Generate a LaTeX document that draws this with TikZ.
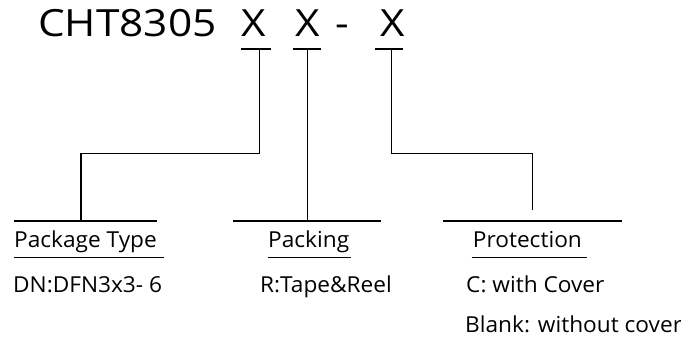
\documentclass[tikz,border=0pt]{standalone}
\usepackage{fontspec}
\setmainfont{Open Sans}
\newfontfamily\titlefont[FakeStretch=1.13]{Open Sans}
\newfontfamily\lblfont[FakeStretch=1.03]{Open Sans}
\begin{document}
\begin{tikzpicture}[x=1pt,y=-1pt,
  ln/.style={line width=1.3pt,line cap=butt},
  title/.style={anchor=base,inner sep=0pt,font=\titlefont\fontsize{37.5}{40}\selectfont},
  lbl/.style={anchor=base west,inner sep=0pt,font=\lblfont\fontsize{22}{26}\selectfont}]
\useasboundingbox (0,0) rectangle (681,337);
% title
\node[title,anchor=base west] (code) at (38,37) {CHT8305};
\node[title] (x1) at (254,37) {X};
\node[title] (x2) at (307.5,37) {X};
\node[title] (dash) at (342,37) {-};
\node[title] (x3) at (393,37) {X};
% bars under X
\coordinate (b1l) at (240.7,49); \coordinate (b1r) at (270.7,49);
\coordinate (b2l) at (292.7,49); \coordinate (b2r) at (320.7,49);
\coordinate (b3l) at (375,49);   \coordinate (b3r) at (402.7,49);
\draw[ln] (b1l) -- (b1r);
\draw[ln] (b2l) -- (b2r);
\draw[ln] (b3l) -- (b3r);
% top bars of groups
\coordinate (g1l) at (14,221);  \coordinate (g1r) at (156.7,221);
\coordinate (g2l) at (233,221); \coordinate (g2r) at (380.7,221);
\coordinate (g3l) at (443.3,221); \coordinate (g3r) at (621.7,221);
\draw[ln] (g1l) -- (g1r);
\draw[ln] (g2l) -- (g2r);
\draw[ln] (g3l) -- (g3r);
% connectors
\coordinate (t1) at (259.3,49); \coordinate (e1) at (81,221);
\coordinate (t2) at (307.7,49); \coordinate (e2) at (307.7,221);
\coordinate (t3) at (391.7,49); \coordinate (e3) at (532.7,210);
\draw[ln] (t1) |- (81,153.3) -- (e1);
\draw[ln] (t2) -- (e2);
\draw[ln] (t3) |- (532.7,153.3) -- (e3);
% labels
\node[lbl] (pt) at (14,247) {Package Type};
\node[lbl] (pk) at (268,247) {Packing};
\node[lbl] (pr) at (472.7,247) {Protection};
\coordinate (u1l) at (14,257.3);   \coordinate (u1r) at (164,257.3);
\coordinate (u2l) at (268,257.3);  \coordinate (u2r) at (350.7,257.3);
\coordinate (u3l) at (471.7,257.3); \coordinate (u3r) at (587.3,257.3);
\draw[ln] (u1l) -- (u1r);
\draw[ln] (u2l) -- (u2r);
\draw[ln] (u3l) -- (u3r);
\node[lbl] (d1) at (13,292) {DN:DFN3x3- 6};
\node[lbl] (d2) at (260,292) {R:Tape\&Reel};
\node[lbl] (d3) at (466,292) {C: with Cover};
\node[lbl] (d4) at (465,332) {Blank: without cover};
\end{tikzpicture}
\end{document}
